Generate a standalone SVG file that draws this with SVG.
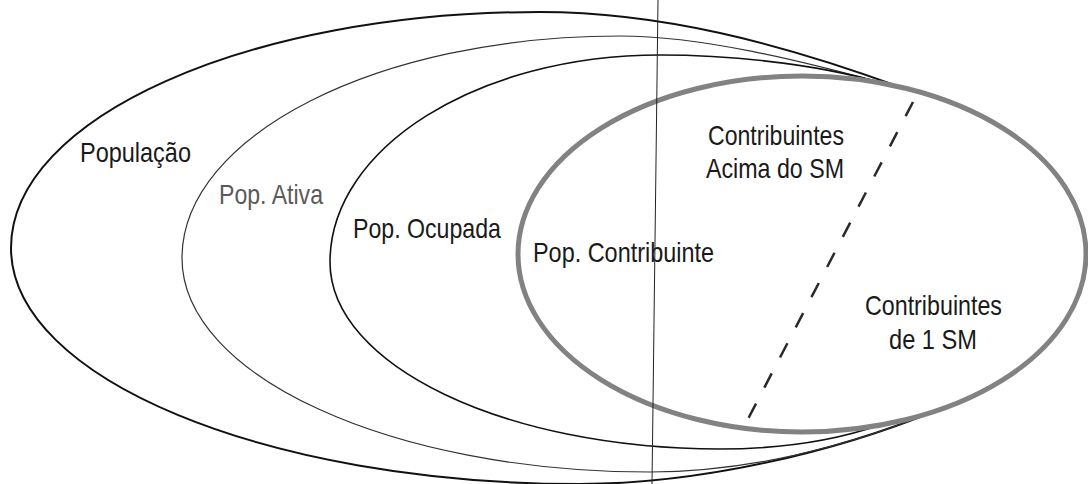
<svg xmlns="http://www.w3.org/2000/svg" width="1088" height="484" viewBox="0 0 1088 484">
<style>
.lbl{font-family:"Liberation Sans Narrow","Liberation Sans",Arial,sans-serif;font-size:28px;fill:#1a1a1a}
.light{fill:#5a5a5a}
.curve{fill:none;stroke-linecap:round}
</style>
<rect width="1088" height="484" fill="#ffffff"/>
<g id="populacao">
<path class="curve" stroke="#111" stroke-width="2" d="M900,87 C780,43 660,12 540,12 C247.8,12 11,117.7 11,248 C11,378.3 265.7,484 580,484 C700,484 835,452 935,411"/>
<text class="lbl" x="80" y="162" textLength="111" lengthAdjust="spacingAndGlyphs">População</text>
</g>
<g id="pop-ativa">
<path class="curve" stroke="#333" stroke-width="1.2" d="M897,87 C800,60 700,36 620,36 C378.1,36 182,135.4 182,258 C182,376.2 391.5,472 650,472 C745,472 845,448 935,411"/>
<text class="lbl light" x="219" y="204" textLength="104" lengthAdjust="spacingAndGlyphs">Pop. Ativa</text>
</g>
<g id="pop-ocupada">
<path class="curve" stroke="#111" stroke-width="1.6" d="M895,87 C830,66 740,55 660,55 C477.7,55 330,147.7 330,262 C330,365.3 504.6,449 720,449 C790,449 845,437 880,425"/>
<text class="lbl" x="353" y="238" textLength="148" lengthAdjust="spacingAndGlyphs">Pop. Ocupada</text>
</g>
<g id="pop-contribuinte">
<ellipse cx="802" cy="254" rx="284" ry="178" fill="none" stroke="#828282" stroke-width="5"/>
<text class="lbl" x="533" y="262" textLength="181" lengthAdjust="spacingAndGlyphs" fill="#262626">Pop. Contribuinte</text>
</g>
<g id="contribuintes-acima">
<text class="lbl" x="708" y="145" textLength="136" lengthAdjust="spacingAndGlyphs">Contribuintes</text>
<text class="lbl" x="706" y="178" textLength="138" lengthAdjust="spacingAndGlyphs">Acima do SM</text>
</g>
<g id="contribuintes-1sm">
<text class="lbl" x="865" y="315" textLength="137" lengthAdjust="spacingAndGlyphs">Contribuintes</text>
<text class="lbl" x="889" y="349" textLength="88" lengthAdjust="spacingAndGlyphs">de 1 SM</text>
</g>
<g id="connectors">
<line x1="913" y1="102" x2="748" y2="419" stroke="#2a2a2a" stroke-width="2.5" stroke-dasharray="16 18"/>
<line x1="658" y1="0" x2="652" y2="484" stroke="#222" stroke-width="1"/>
</g>
</svg>
